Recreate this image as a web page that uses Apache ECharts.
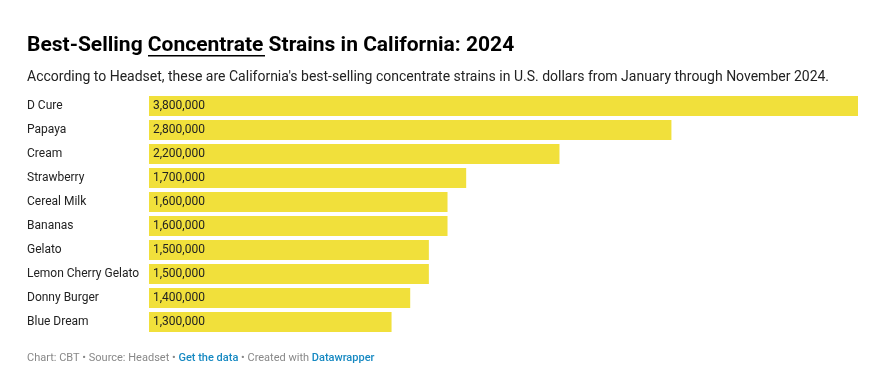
<!DOCTYPE html>
<html>
<head>
<meta charset="utf-8">
<script src="https://cdn.jsdelivr.net/npm/echarts@6/dist/echarts.min.js"></script>
<style>
html,body{margin:0;padding:0;background:#fff;}
#chart{width:870px;height:392px;}
</style>
</head>
<body>
<div id="chart"></div>
<script>
const categories = ["D Cure","Papaya","Cream","Strawberry","Cereal Milk","Bananas","Gelato","Lemon Cherry Gelato","Donny Burger","Blue Dream"];
const sales = [3800000,2800000,2200000,1700000,1600000,1600000,1500000,1500000,1400000,1300000];
const titleText = "Best-Selling Concentrate Strains in California: 2024";
const subtitleText = "According to Headset, these are California's best-selling concentrate strains in U.S. dollars from January through November 2024.";

const chart = echarts.init(document.getElementById('chart'), null, {renderer:'canvas'});
const fmt = v => v.toLocaleString('en-US');
chart.setOption({
  animation:false,
  backgroundColor:'#fff',
  title:[
    {text:titleText, left:27, top:35, padding:0,
     textStyle:{fontFamily:'Roboto', fontWeight:'bold', fontSize:21, color:'#000'}},
    {text:subtitleText, left:27, top:70, padding:0,
     textStyle:{fontFamily:'Roboto', fontWeight:'normal', fontSize:14, color:'#222'}},
    {text:'{g|Chart: CBT • Source: Headset • }{b|Get the data}{g| • Created with }{b|Datawrapper}', left:27, top:353, padding:0,
     textStyle:{fontFamily:'Roboto', fontSize:11, fontWeight:'normal',
       rich:{g:{color:'#888', fontFamily:'Roboto', fontSize:11, fontWeight:'normal'},
             b:{color:'#1689c2', fontFamily:'Roboto', fontSize:11, fontWeight:500}}}}
  ],
  graphic:[
    {type:'rect', shape:{x:148, y:55, width:117, height:1.5}, style:{fill:'#000'}}
  ],
  grid:{left:149, right:12, top:94, bottom:58, containLabel:false},
  xAxis:{type:'value', min:0, max:3800000, show:false},
  yAxis:{type:'category', data:categories, inverse:true,
    axisLine:{show:false}, axisTick:{show:false}, splitLine:{show:false},
    axisLabel:{align:'left', margin:122, fontFamily:'Roboto', fontSize:12, color:'#222', padding:[2,0,0,0]}},
  series:[{
    type:'bar', data:sales, barCategoryGap:'17%',
    itemStyle:{color:'#f1e03b'},
    label:{show:true, position:'insideLeft', distance:4, formatter:p=>fmt(p.value),
      fontFamily:'Roboto', fontSize:12, color:'#222', padding:[2,0,0,0]}
  }]
});
</script>
</body>
</html>
